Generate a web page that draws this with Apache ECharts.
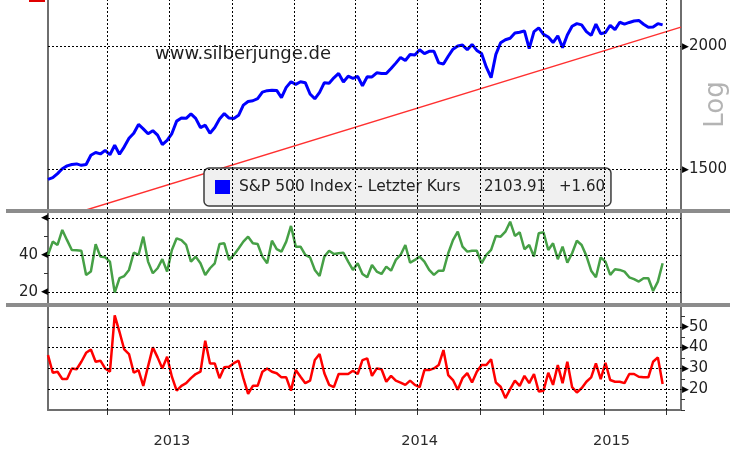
<!DOCTYPE html>
<html>
<head>
<meta charset="utf-8">
<title>S&amp;P 500 Index</title>
<script src="https://cdn.jsdelivr.net/npm/echarts@6/dist/echarts.min.js"></script>
<style>
html, body { margin: 0; padding: 0; background: #fff; }
#chart { width: 730px; height: 452px; }
</style>
</head>
<body>
<div id="chart"></div>
<script>
var FONT = '"DejaVu Sans", Verdana, sans-serif';

// weekly closes (Fridays)
var dates = [
  '2013-01-04','2013-01-11','2013-01-18','2013-01-25','2013-02-01','2013-02-08','2013-02-15','2013-02-22','2013-03-01','2013-03-08','2013-03-15','2013-03-22','2013-03-29',
  '2013-04-05','2013-04-12','2013-04-19','2013-04-26','2013-05-03','2013-05-10','2013-05-17','2013-05-24','2013-05-31','2013-06-07','2013-06-14','2013-06-21','2013-06-28',
  '2013-07-05','2013-07-12','2013-07-19','2013-07-26','2013-08-02','2013-08-09','2013-08-16','2013-08-23','2013-08-30','2013-09-06','2013-09-13','2013-09-20','2013-09-27',
  '2013-10-04','2013-10-11','2013-10-18','2013-10-25','2013-11-01','2013-11-08','2013-11-15','2013-11-22','2013-11-29','2013-12-06','2013-12-13','2013-12-20','2013-12-27',
  '2014-01-03','2014-01-10','2014-01-17','2014-01-24','2014-01-31','2014-02-07','2014-02-14','2014-02-21','2014-02-28','2014-03-07','2014-03-14','2014-03-21','2014-03-28',
  '2014-04-04','2014-04-11','2014-04-18','2014-04-25','2014-05-02','2014-05-09','2014-05-16','2014-05-23','2014-05-30','2014-06-06','2014-06-13','2014-06-20','2014-06-27',
  '2014-07-04','2014-07-11','2014-07-18','2014-07-25','2014-08-01','2014-08-08','2014-08-15','2014-08-22','2014-08-29','2014-09-05','2014-09-12','2014-09-19','2014-09-26',
  '2014-10-03','2014-10-10','2014-10-17','2014-10-24','2014-10-31','2014-11-07','2014-11-14','2014-11-21','2014-11-28','2014-12-05','2014-12-12','2014-12-19','2014-12-26',
  '2015-01-02','2015-01-09','2015-01-16','2015-01-23','2015-01-30','2015-02-06','2015-02-13','2015-02-20','2015-02-27','2015-03-06','2015-03-13','2015-03-20','2015-03-27',
  '2015-04-03','2015-04-10','2015-04-17','2015-04-24','2015-05-01','2015-05-08','2015-05-15','2015-05-22','2015-05-29','2015-06-05','2015-06-12','2015-06-19','2015-06-26'
];

var spx = [
  1466, 1472, 1486, 1503, 1513, 1518, 1520, 1515, 1518, 1551, 1561, 1556, 1569,
  1553, 1588, 1555, 1582, 1614, 1633, 1667, 1650, 1631, 1643, 1626, 1590, 1606,
  1632, 1680, 1692, 1691, 1709, 1691, 1655, 1664, 1633, 1655, 1688, 1710, 1692,
  1690, 1703, 1744, 1759, 1762, 1771, 1798, 1804, 1806, 1805, 1775, 1818, 1842,
  1831, 1842, 1838, 1790, 1770, 1797, 1838, 1836, 1859, 1878, 1841, 1866, 1857,
  1865, 1825, 1864, 1863, 1881, 1878, 1878, 1900, 1924, 1950, 1936, 1963, 1961,
  1985, 1967, 1978, 1978, 1925, 1920, 1955, 1988, 2003, 2007, 1985, 2010, 1982,
  1968, 1906, 1860, 1964, 2018, 2032, 2039, 2064, 2068, 2075, 1990, 2071, 2089,
  2058, 2045, 2019, 2051, 1995, 2055, 2097, 2110, 2104, 2071, 2053, 2108, 2061,
  2067, 2102, 2081, 2117, 2108, 2116, 2123, 2126, 2107, 2092, 2094, 2110, 2103.91
];

var osc = [
  40, 47.2, 45.4, 53.5, 48, 42.7, 42.5, 42.3, 29.2, 31, 45.8, 39.1, 38.7,
  36.4, 19.6, 27.4, 28.6, 31.9, 41.2, 40, 49.9, 36.4, 30.1, 32.8, 37.7, 31,
  42.7, 49, 48, 45.4, 36.4, 39.1, 35.5, 29.2, 32.8, 35.5, 45.9, 46.3, 37.3,
  40, 43.5, 47.2, 49.9, 46.3, 45.9, 39.1, 35.5, 47.7, 43.1, 41.8, 47.2, 55.7,
  44.5, 44.5, 40, 38.7, 31.9, 28.6, 39.1, 42.3, 40.5, 40.9, 41.2, 36.4, 31.9,
  35.5, 29.7, 27.9, 34.6, 31, 29.7, 33.7, 31.5, 37.3, 40, 45.4, 35.8, 37.3,
  39.1, 36.4, 31.9, 29.2, 31.5, 31.5, 40.9, 48, 52.6, 44.5, 41.8, 42.3, 42.3,
  35.5, 40, 42.7, 50.3, 49.9, 52.6, 58, 50.3, 52.3, 43.1, 45.4, 39.1, 51.7,
  52.3, 42.7, 46.3, 37.7, 44.5, 35.8, 40.9, 47.7, 45.4, 39.5, 31.5, 27.9, 38.7,
  36.4, 29.2, 32.3, 31.9, 31, 27.9, 26.9, 25.6, 27.4, 27.4, 20.5, 25.6, 35.5
];

var redLine = [
  36.4, 27.9, 28.4, 24.9, 24.9, 30, 29.6, 33.2, 37.5, 39.1, 33.2, 33.7, 30,
  28.4, 55.5, 47.6, 39.1, 36.9, 27.9, 29.2, 21.6, 31, 40.1, 35.3, 30, 35.6,
  26, 19.3, 21.6, 22.9, 25.3, 27.3, 28.4, 43.3, 32.4, 32.4, 25.3, 30.5, 30.8,
  32.5, 33.7, 25.3, 17.8, 21.6, 21.6, 28.4, 30, 28.4, 27.7, 25.7, 25.7, 19.3,
  29.2, 26, 22.9, 24.1, 34, 36.9, 27.7, 22.1, 21, 27.3, 27.3, 27.3, 28.9,
  27.3, 34, 34.8, 26.4, 30, 29.6, 23.6, 26.4, 24.1, 23.2, 22.1, 24.1, 22.1,
  21, 29.2, 29.2, 30, 31.6, 38.8, 26.8, 24.4, 19.7, 25.3, 27.7, 23.2, 28.4,
  31.6, 31.6, 34.4, 23.2, 21.2, 15.7, 20, 24.1, 21.6, 26.4, 22.9, 27.3, 18.9,
  19.3, 27.9, 22.1, 31.6, 22.9, 33.2, 21, 18.4, 20.5, 23.6, 25.7, 32.4, 24.8,
  32.7, 24.4, 23.6, 23.6, 22.9, 27.3, 27.3, 26, 25.7, 25.7, 33.2, 35.3, 22.5
];

var trendDates = ['2013-03-01', '2015-07-23'];
var trendValues = [1365, 2093];

var quarterStarts = ['2013-04-01','2013-07-01','2013-10-01','2014-01-01','2014-04-01','2014-07-01','2014-10-01','2015-01-01','2015-04-01','2015-07-01'];
var yearLabels = ['2013', '2014', '2015'];
var yearCenters = ['2013-07-05','2014-07-04','2015-04-12'];
var spxTicks = [1500, 2000];
var oscTicks = [20, 40, 60];
var oscLabels = [20, 40];
var redTicks = [20, 30, 40, 50];
var lastChange = '+1.60';

var xMin = '2013-01-04', xMax = '2015-07-23';

function ts(s) { return new Date(s + 'T00:00:00').getTime(); }

var axisGray = { color: '#6e6e6e', width: 2 };
var dotted = { color: '#000', type: [2, 2], width: 1 };

function gridMarks(yVals) {
  return {
    silent: true,
    symbol: ['none', 'none'],
    label: { show: false },
    lineStyle: dotted,
    emphasis: { disabled: true },
    data: quarterStarts.map(function (d) { return { xAxis: ts(d) }; })
      .concat(yVals.map(function (v) { return { yAxis: v }; }))
  };
}

function xAx(i) {
  return {
    type: 'time', gridIndex: i, min: ts(xMin), max: ts(xMax),
    axisLine: { show: i === 2, lineStyle: axisGray },
    axisTick: { show: false },
    axisLabel: { show: false }, splitLine: { show: false }
  };
}

function lineOnly(i, pos) {
  return {
    type: 'value', gridIndex: i, position: pos, min: 0, max: 1,
    axisLine: { show: true, lineStyle: axisGray },
    axisTick: { show: false }, axisLabel: { show: false }, splitLine: { show: false }
  };
}

var labelRich = {
  t: { fontSize: 9, color: '#000', fontFamily: FONT },
  tl: { fontSize: 9, color: '#000', fontFamily: FONT, padding: [0, 0, 0, 3] },
  v: { fontSize: 15, color: '#222', fontFamily: FONT }
};

function pairs(vals) {
  return dates.map(function (d, i) { return [d, vals[i]]; });
}

var yearTs = yearCenters.map(ts);

var chart = echarts.init(document.getElementById('chart'));
chart.setOption({
  animation: false,
  backgroundColor: '#fff',
  title: {
    text: 'www.silberjunge.de',
    left: 155, top: 45, padding: 0,
    textStyle: { fontSize: 18, fontWeight: 'normal', color: '#1e1e1e', fontFamily: FONT }
  },
  legend: {
    left: 204, top: 168,
    data: [{ name: 'S&P 500 Index', icon: 'rect' }],
    selectedMode: false,
    itemWidth: 15, itemHeight: 14, itemGap: 0,
    padding: [11, 6, 11, 11],
    backgroundColor: '#f0f0f0',
    borderColor: '#3c3c3c', borderWidth: 1.5, borderRadius: 5,
    formatter: function (name) {
      return '{a|' + name + ' - Letzter Kurs}{b|' + spx[spx.length - 1].toFixed(2) + '}{c|' + lastChange + '}';
    },
    textStyle: {
      fontSize: 15, color: '#222', fontFamily: FONT,
      rich: {
        a: { width: 245, padding: [0, 0, 0, 4], fontSize: 15.5, lineHeight: 17, fontFamily: FONT, color: '#222' },
        b: { width: 75, fontSize: 15, lineHeight: 17, fontFamily: FONT, color: '#222' },
        c: { fontSize: 15, lineHeight: 17, fontFamily: FONT, color: '#222' }
      }
    }
  },
  grid: [
    { left: 48, right: 49, top: 0, height: 209, outerBoundsMode: 'none' },
    { left: 48, right: 49, top: 213, height: 90, outerBoundsMode: 'none' },
    { left: 48, right: 49, top: 306, height: 104, outerBoundsMode: 'none' }
  ],
  xAxis: [
    xAx(0), xAx(1), xAx(2),
    {
      // quarter ticks and year captions under the bottom panel
      type: 'value', gridIndex: 2, position: 'bottom', min: ts(xMin), max: ts(xMax),
      axisLine: { show: false },
      axisTick: { show: true, customValues: quarterStarts.map(ts), length: 5, lineStyle: { color: '#333', width: 1 } },
      axisLabel: {
        customValues: yearTs, margin: 24,
        fontSize: 14.5, color: '#2a2a2a', fontFamily: FONT,
        formatter: function (v) { return yearLabels[yearTs.indexOf(v)]; }
      },
      splitLine: { show: false }
    }
  ],
  yAxis: [
    {
      type: 'log', logBase: 10, gridIndex: 0, position: 'right', min: 1368, max: 2230,
      name: 'Log', nameLocation: 'middle', nameRotate: 90, nameGap: 22, nameMoveOverlap: false,
      nameTextStyle: { fontSize: 26, color: '#b4b4b4', fontFamily: FONT },
      axisLine: { show: true, lineStyle: axisGray },
      axisTick: { show: false }, splitLine: { show: false },
      axisLabel: {
        customValues: spxTicks, margin: 1, rich: labelRich,
        formatter: function (v) { return '{t|\u25B6}{v|' + v + '}'; }
      }
    },
    lineOnly(0, 'left'),
    {
      type: 'value', gridIndex: 1, position: 'left', min: 14, max: 62.7,
      axisLine: { show: true, lineStyle: axisGray },
      axisTick: { show: true, customValues: [30, 50], length: 4, lineStyle: { color: '#333' } },
      splitLine: { show: false },
      axisLabel: {
        customValues: oscTicks, margin: 0, rich: labelRich,
        formatter: function (v) {
          return (oscLabels.indexOf(v) >= 0 ? '{v|' + v + '}' : '') + '{tl|\u25C0}';
        }
      }
    },
    lineOnly(1, 'right'),
    {
      type: 'value', gridIndex: 2, position: 'right', min: 10, max: 60, interval: 5,
      axisLine: { show: true, lineStyle: axisGray },
      axisTick: { show: true, length: 4, lineStyle: { color: '#333' } },
      splitLine: { show: false },
      axisLabel: {
        margin: 1, rich: labelRich, showMinLabel: true, showMaxLabel: true,
        formatter: function (v) {
          return redTicks.indexOf(v) >= 0 ? '{t|\u25B6}{v|' + v + '}' : '';
        }
      }
    },
    lineOnly(2, 'left')
  ],
  graphic: [
    { type: 'rect', z: 100, shape: { x: 6, y: 209, width: 724, height: 4 }, style: { fill: '#8c8c8c' } },
    { type: 'rect', z: 100, shape: { x: 6, y: 303, width: 724, height: 4 }, style: { fill: '#8c8c8c' } },
    { type: 'rect', z: 100, shape: { x: 29, y: 0, width: 16, height: 2 }, style: { fill: '#e00000' } }
  ],
  series: [
    {
      type: 'line', name: 'S&P 500 Index', xAxisIndex: 0, yAxisIndex: 0,
      data: pairs(spx), symbol: 'none', z: 4,
      lineStyle: { color: '#0000ff', width: 3 }, itemStyle: { color: '#0000ff' },
      markLine: gridMarks(spxTicks)
    },
    {
      type: 'line', name: 'Trend', xAxisIndex: 0, yAxisIndex: 0,
      data: trendDates.map(function (d, i) { return [d, trendValues[i]]; }),
      symbol: 'none', z: 3, lineStyle: { color: '#ff3030', width: 1.5 }
    },
    {
      type: 'line', name: 'Oszillator', xAxisIndex: 1, yAxisIndex: 2,
      data: pairs(osc), symbol: 'none',
      lineStyle: { color: '#46a046', width: 2.5 },
      markLine: gridMarks(oscTicks)
    },
    {
      type: 'line', name: 'Indikator', xAxisIndex: 2, yAxisIndex: 4,
      data: pairs(redLine), symbol: 'none',
      lineStyle: { color: '#ff0000', width: 2.5 },
      markLine: gridMarks(redTicks)
    }
  ]
});
</script>
</body>
</html>
